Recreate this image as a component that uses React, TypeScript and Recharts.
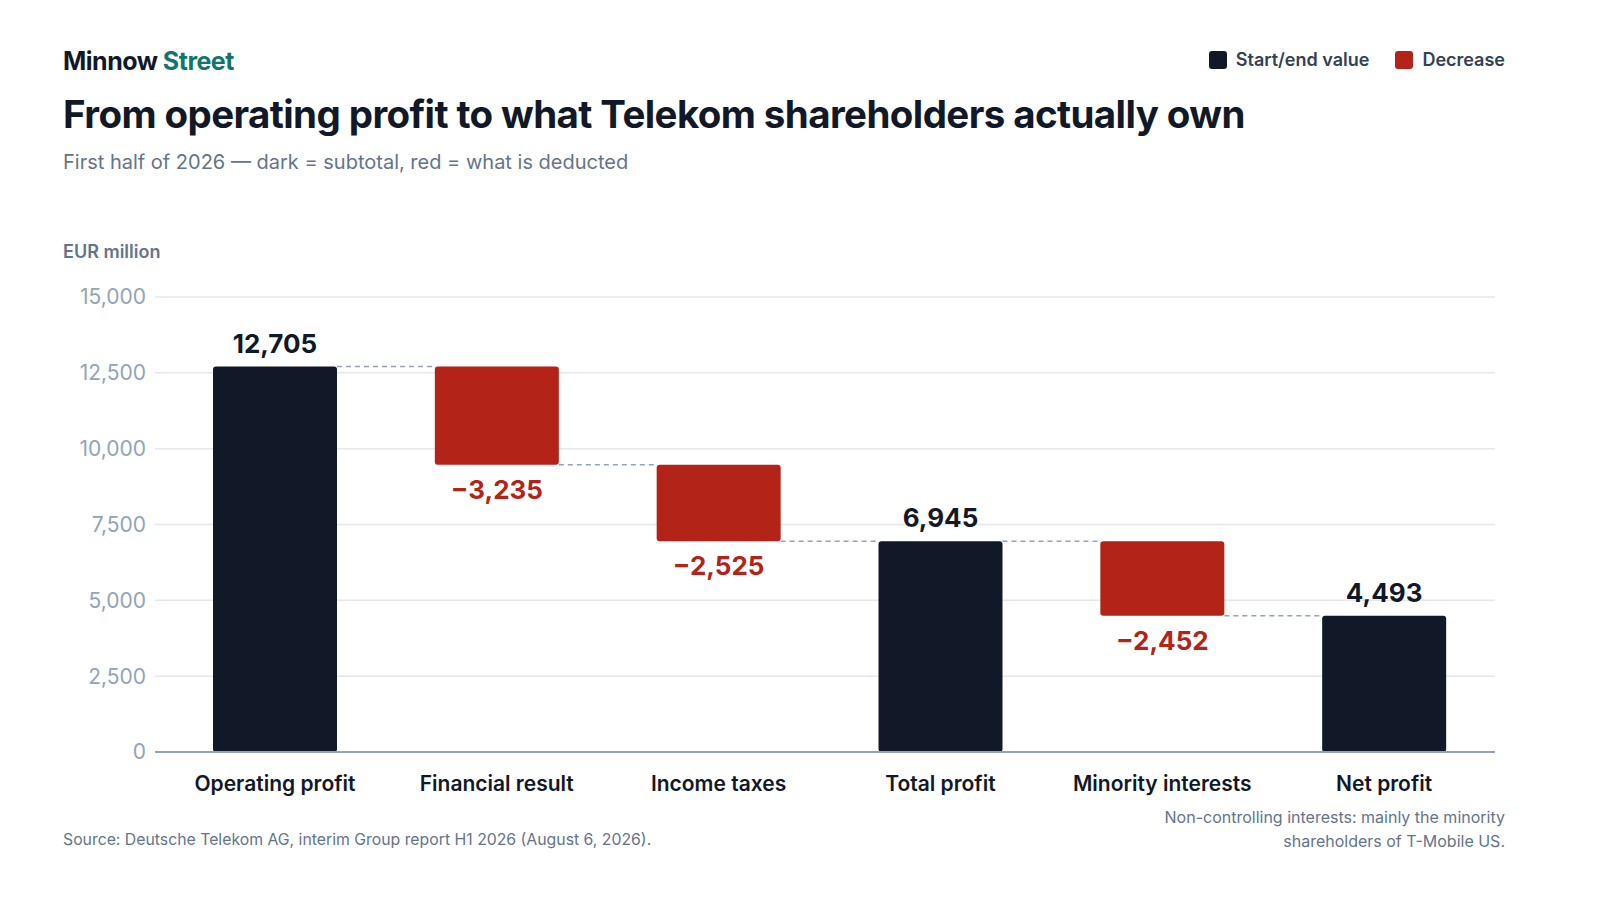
import React from 'react';
import { BarChart, Bar, Cell, XAxis, YAxis, CartesianGrid, LabelList } from 'recharts';

const categories = ['Operating profit', 'Financial result', 'Income taxes', 'Total profit', 'Minority interests', 'Net profit'];
const values = [12705, -3235, -2525, 6945, -2452, 4493];
const kinds: ('total' | 'delta')[] = ['total', 'delta', 'delta', 'total', 'delta', 'total'];
const yTicks = [0, 2500, 5000, 7500, 10000, 12500, 15000];

const DARK = '#111827';
const RED = '#b42318';
const FONT = 'Inter, "Noto Sans", sans-serif';
const BAR_SIZE = 124;
const CONNECTOR_GAP = 98;

// waterfall: transparent base + visible part, stacked
let running = 0;
const data = categories.map((name, i) => {
  const v = values[i];
  if (kinds[i] === 'total') {
    running = v;
    return { name, base: 0, bar: v, value: v, kind: 'total', level: v };
  }
  const end = running + v;
  const row = { name, base: end, bar: -v, value: v, kind: 'delta', level: end };
  running = end;
  return row;
});

const fmt = (n: number) => (n < 0 ? '\u2212' : '') + Math.abs(n).toLocaleString('en-US');

const WaterfallShape = (props: any) => {
  const { x, y, width, height, index, payload } = props;
  const isLast = index === data.length - 1;
  const lineY = payload.kind === 'total' ? y : y + height;
  return (
    <g>
      <rect x={x} y={y} width={width} height={height} rx={3} ry={3} fill={payload.kind === 'total' ? DARK : RED} />
      {!isLast && (
        <line
          x1={x + width}
          x2={x + width + CONNECTOR_GAP}
          y1={lineY}
          y2={lineY}
          stroke="#94a3b8"
          strokeWidth={1.5}
          strokeDasharray="5 4"
        />
      )}
    </g>
  );
};

const ValueLabel = (props: any) => {
  const { x, y, width, height, index } = props;
  const row = data[index];
  const cx = x + width / 2;
  if (row.kind === 'total') {
    return (
      <text x={cx} y={y - 14} textAnchor="middle" fontFamily={FONT} fontWeight={700} fontSize={26} fill={DARK}>
        {fmt(row.value)}
      </text>
    );
  }
  return (
    <text x={cx} y={y + height + 34} textAnchor="middle" fontFamily={FONT} fontWeight={700} fontSize={26} fill={RED}>
      {fmt(row.value)}
    </text>
  );
};

export default function App() {
  return (
    <div style={{ position: 'absolute', left: 0, top: 0, width: 1600, height: 900, background: '#fff', fontFamily: FONT }}>
      <div style={{ position: 'absolute', left: 63, top: 46, fontSize: 25, fontWeight: 700, color: DARK, letterSpacing: -0.5, lineHeight: '30px' }}>
        Minnow <span style={{ color: '#0f766e' }}>Street</span>
      </div>
      <div style={{ position: 'absolute', left: 63, top: 90, fontSize: 38.5, fontWeight: 700, color: DARK, letterSpacing: -0.6, lineHeight: '48px' }}>
        From operating profit to what Telekom shareholders actually own
      </div>
      <div style={{ position: 'absolute', left: 63, top: 149, fontSize: 20, color: '#64748b', lineHeight: '26px' }}>
        First half of 2026 — dark = subtotal, red = what is deducted
      </div>

      <div style={{ position: 'absolute', right: 95, top: 48, display: 'flex', alignItems: 'center', gap: 9, fontSize: 18, fontWeight: 600, color: '#334155', lineHeight: '24px' }}>
        <span style={{ width: 18, height: 18, borderRadius: 3, background: DARK, display: 'inline-block' }} />
        <span>Start/end value</span>
        <span style={{ width: 18, height: 18, borderRadius: 3, background: RED, display: 'inline-block', marginLeft: 17 }} />
        <span>Decrease</span>
      </div>

      <div style={{ position: 'absolute', left: 63, top: 241, fontSize: 18, fontWeight: 600, color: '#64748b', lineHeight: '22px' }}>
        EUR million
      </div>

      <div style={{ position: 'absolute', left: 0, top: 0 }}>
        <BarChart width={1600} height={900} data={data} margin={{ top: 297, right: 105, bottom: 88, left: 60 }} barSize={BAR_SIZE}>
          <CartesianGrid vertical={false} stroke="#e5e7eb" strokeWidth={1.5} />
          <XAxis
            dataKey="name"
            height={60}
            padding={{ left: 9, right: 0 }}
            tickLine={false}
            tickSize={0}
            tickMargin={24}
            axisLine={{ stroke: '#94a3b8', strokeWidth: 2 }}
            tick={{ fill: DARK, fontSize: 21, fontWeight: 600, fontFamily: FONT }}
            interval={0}
          />
          <YAxis
            width={95}
            domain={[0, 15000]}
            ticks={yTicks}
            tickFormatter={(v) => v.toLocaleString('en-US')}
            axisLine={false}
            tickLine={false}
            tickSize={0}
            tickMargin={9}
            tick={{ fill: '#94a3b8', fontSize: 21, fontFamily: FONT }}
          />
          <Bar dataKey="base" stackId="w" fill="transparent" isAnimationActive={false} />
          <Bar dataKey="bar" stackId="w" shape={WaterfallShape} isAnimationActive={false}>
            {data.map((d, i) => (
              <Cell key={`c-${i}`} fill={d.kind === 'total' ? DARK : RED} />
            ))}
            <LabelList dataKey="bar" content={ValueLabel} />
          </Bar>
        </BarChart>
      </div>

      <div style={{ position: 'absolute', left: 63, top: 829, fontSize: 15.8, color: '#64748b', lineHeight: '22px' }}>
        Source: Deutsche Telekom AG, interim Group report H1 2026 (August 6, 2026).
      </div>
      <div style={{ position: 'absolute', right: 95, top: 805, fontSize: 16, color: '#64748b', lineHeight: '24px', textAlign: 'right' }}>
        Non-controlling interests: mainly the minority
        <br />
        shareholders of T-Mobile US.
      </div>
    </div>
  );
}
